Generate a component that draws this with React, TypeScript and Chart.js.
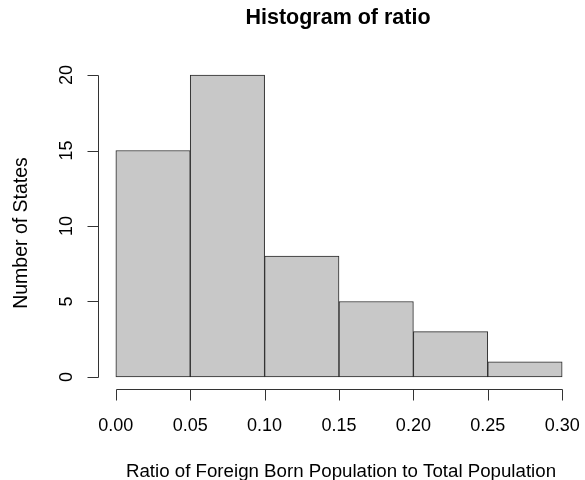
import React, { useEffect, useRef } from "react";
import { Chart, registerables } from "chart.js";

Chart.register(...registerables);

const binEdges = [0.0, 0.05, 0.1, 0.15, 0.2, 0.25, 0.3];
const counts = [15, 20, 8, 5, 3, 1];
const xTicks = [0.0, 0.05, 0.1, 0.15, 0.2, 0.25, 0.3];
const yTicks = [0, 5, 10, 15, 20];
const titleText = "Histogram of ratio";
const xLabel = "Ratio of Foreign Born Population to Total Population";
const yLabel = "Number of States";

const FONT = '"Liberation Sans", Arial, Helvetica, sans-serif';

const rAxes = {
  id: "rAxes",
  afterDraw(chart: any) {
    const ctx = chart.ctx;
    const xs = chart.scales.x;
    const ys = chart.scales.y;
    const area = chart.chartArea;
    ctx.save();
    ctx.strokeStyle = "#333";
    ctx.fillStyle = "#000";
    ctx.lineWidth = 1;
    // x axis
    const xAxisY = area.bottom + 0.5;
    const x0 = Math.round(xs.getPixelForValue(xTicks[0])) + 0.5;
    const x1 = Math.round(xs.getPixelForValue(xTicks[xTicks.length - 1])) + 0.5;
    ctx.beginPath();
    ctx.moveTo(x0, xAxisY);
    ctx.lineTo(x1, xAxisY);
    xTicks.forEach((t) => {
      const px = Math.round(xs.getPixelForValue(t)) + 0.5;
      ctx.moveTo(px, xAxisY);
      ctx.lineTo(px, xAxisY + 11);
    });
    ctx.stroke();
    ctx.font = `18px ${FONT}`;
    ctx.textAlign = "center";
    ctx.textBaseline = "alphabetic";
    xTicks.forEach((t) => {
      const px = xs.getPixelForValue(t);
      ctx.fillText(t.toFixed(2), px, area.bottom + 42);
    });
    // y axis
    const yAxisX = area.left + 0.5;
    const y0 = Math.round(ys.getPixelForValue(yTicks[0])) + 0.5;
    const y1 = Math.round(ys.getPixelForValue(yTicks[yTicks.length - 1])) + 0.5;
    ctx.beginPath();
    ctx.moveTo(yAxisX, y0);
    ctx.lineTo(yAxisX, y1);
    yTicks.forEach((t) => {
      const py = Math.round(ys.getPixelForValue(t)) + 0.5;
      ctx.moveTo(yAxisX, py);
      ctx.lineTo(yAxisX - 11, py);
    });
    ctx.stroke();
    yTicks.forEach((t) => {
      const py = ys.getPixelForValue(t);
      ctx.save();
      ctx.translate(area.left - 26, py);
      ctx.rotate(-Math.PI / 2);
      ctx.textAlign = "center";
      ctx.fillText(String(t), 0, 0);
      ctx.restore();
    });
    // titles
    const cx = (area.left + area.right) / 2;
    ctx.font = `bold 21.5px ${FONT}`;
    ctx.fillText(titleText, cx - 1, 24);
    ctx.font = `18.7px ${FONT}`;
    ctx.fillText(xLabel, cx + 2, 477);
    ctx.save();
    ctx.font = `19.5px ${FONT}`;
    ctx.translate(27, 233);
    ctx.rotate(-Math.PI / 2);
    ctx.fillText(yLabel, 0, 0);
    ctx.restore();
    ctx.restore();
  },
};

export default function App() {
  const ref = useRef<HTMLCanvasElement>(null);
  useEffect(() => {
    document.body.style.margin = "0";
    const centers = counts.map((_, i) => (binEdges[i] + binEdges[i + 1]) / 2);
    const xPad = (binEdges[binEdges.length - 1] - binEdges[0]) * 0.04;
    const yMax = Math.max(...counts);
    const chart = new Chart(ref.current as HTMLCanvasElement, {
      type: "bar",
      data: {
        datasets: [
          {
            data: centers.map((c, i) => ({ x: c, y: counts[i] })),
            backgroundColor: "#c8c8c8",
            borderColor: "#2a2a2a",
            borderWidth: 1,
            barPercentage: 1,
            categoryPercentage: 1,
            borderSkipped: false,
          },
        ],
      },
      options: {
        responsive: false,
        animation: false,
        events: [],
        layout: { padding: { left: 98, right: 5, top: 63, bottom: 91 } },
        plugins: { legend: { display: false }, tooltip: { enabled: false }, title: { display: false } },
        scales: {
          x: {
            type: "linear",
            display: false,
            offset: false,
            grid: { offset: false },
            min: binEdges[0] - xPad,
            max: binEdges[binEdges.length - 1] + xPad,
          },
          y: {
            type: "linear",
            display: false,
            min: -yMax * 0.04,
            max: yMax * 1.04,
          },
        },
      },
      plugins: [rAxes],
    });
    return () => chart.destroy();
  }, []);
  return (
    <div style={{ width: 585, height: 480, background: "#fff" }}>
      <canvas ref={ref} width={585} height={480} style={{ display: "block" }} />
    </div>
  );
}
